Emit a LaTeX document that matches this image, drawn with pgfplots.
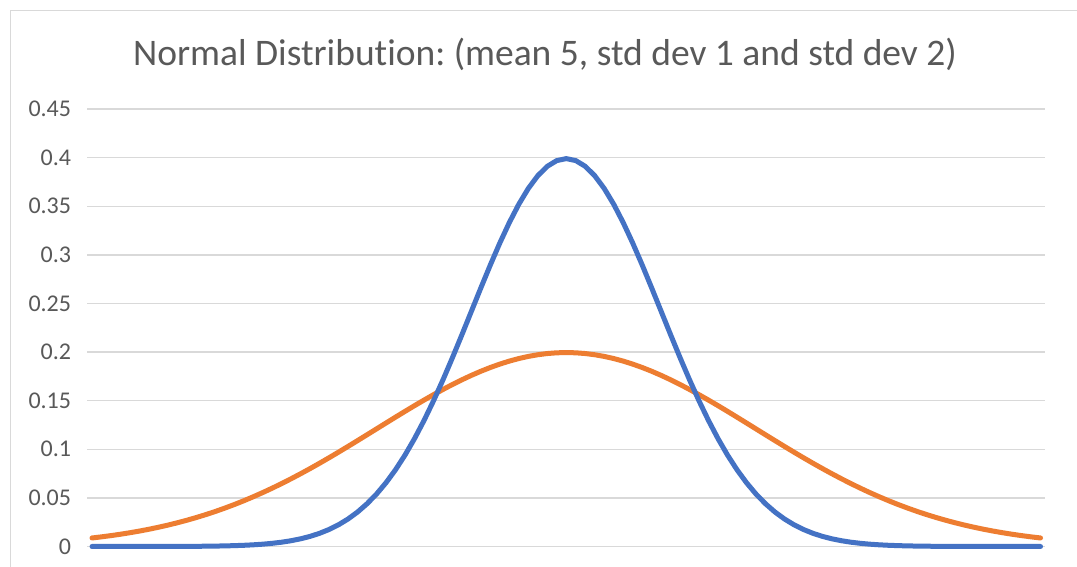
\documentclass[border=0pt]{standalone}
\usepackage{pgfplots}
\pgfplotsset{compat=1.18}
\usepackage{pgfplotstable}
\usepackage{fontspec}
\setmainfont[Ligatures=NoCommon]{Carlito}
\frenchspacing
\definecolor{xlblue}{HTML}{4472C4}
\definecolor{xlorange}{HTML}{ED7D31}
\definecolor{xlgrid}{HTML}{D9D9D9}
\definecolor{xltext}{HTML}{595959}
\pgfplotstableread{
x a b
0.0 0.0000015 0.008764
0.1 0.0000024 0.009919
0.2 0.0000040 0.011197
0.3 0.0000063 0.012610
0.4 0.0000101 0.014164
0.5 0.0000160 0.015870
0.6 0.0000249 0.017738
0.7 0.0000385 0.019779
0.8 0.0000589 0.021992
0.9 0.0000893 0.024396
1.0 0.000134 0.026995
1.1 0.000199 0.029797
1.2 0.000292 0.032808
1.3 0.000425 0.036027
1.4 0.000612 0.039475
1.5 0.000873 0.043139
1.6 0.001232 0.047025
1.7 0.001723 0.051133
1.8 0.002384 0.055460
1.9 0.003267 0.060004
2.0 0.004432 0.064759
2.1 0.005953 0.069716
2.2 0.007915 0.074864
2.3 0.010421 0.080191
2.4 0.013583 0.085684
2.5 0.017528 0.091325
2.6 0.022395 0.097093
2.7 0.028327 0.102968
2.8 0.035475 0.108926
2.9 0.043984 0.114941
3.0 0.053991 0.120985
3.1 0.065616 0.127030
3.2 0.078950 0.133043
3.3 0.094049 0.138992
3.4 0.110921 0.144846
3.5 0.129518 0.150568
3.6 0.149727 0.156127
3.7 0.171369 0.161486
3.8 0.194186 0.166612
3.9 0.217852 0.171472
4.0 0.241971 0.176033
4.1 0.266085 0.180263
4.2 0.289692 0.184135
4.3 0.312254 0.187620
4.4 0.333225 0.190694
4.5 0.352065 0.193334
4.6 0.368270 0.195521
4.7 0.381388 0.197240
4.8 0.391043 0.198476
4.9 0.396953 0.199222
5.0 0.398942 0.199471
5.1 0.396953 0.199222
5.2 0.391043 0.198476
5.3 0.381388 0.197240
5.4 0.368270 0.195521
5.5 0.352065 0.193334
5.6 0.333225 0.190694
5.7 0.312254 0.187620
5.8 0.289692 0.184135
5.9 0.266085 0.180263
6.0 0.241971 0.176033
6.1 0.217852 0.171472
6.2 0.194186 0.166612
6.3 0.171369 0.161486
6.4 0.149727 0.156127
6.5 0.129518 0.150568
6.6 0.110921 0.144846
6.7 0.094049 0.138992
6.8 0.078950 0.133043
6.9 0.065616 0.127030
7.0 0.053991 0.120985
7.1 0.043984 0.114941
7.2 0.035475 0.108926
7.3 0.028327 0.102968
7.4 0.022395 0.097093
7.5 0.017528 0.091325
7.6 0.013583 0.085684
7.7 0.010421 0.080191
7.8 0.007915 0.074864
7.9 0.005953 0.069716
8.0 0.004432 0.064759
8.1 0.003267 0.060004
8.2 0.002384 0.055460
8.3 0.001723 0.051133
8.4 0.001232 0.047025
8.5 0.000873 0.043139
8.6 0.000612 0.039475
8.7 0.000425 0.036027
8.8 0.000292 0.032808
8.9 0.000199 0.029797
9.0 0.000134 0.026995
9.1 0.0000893 0.024396
9.2 0.0000589 0.021992
9.3 0.0000385 0.019779
9.4 0.0000249 0.017738
9.5 0.0000160 0.015870
9.6 0.0000101 0.014164
9.7 0.0000063 0.012610
9.8 0.0000040 0.011197
9.9 0.0000024 0.009919
10.0 0.0000015 0.008764
}\datatable
\begin{document}
\begin{tikzpicture}[x=1pt,y=1pt]
\useasboundingbox[fill=white] (0,0) rectangle (1077,567);
\draw[xlgrid, line width=1.3pt] (10.5,-5) -- (10.5,556.5) -- (1085,556.5);
\node[anchor=base, font=\fontsize{37.5}{44}\selectfont, text=xltext, inner sep=0pt] at (545,501) {Normal Distribution: (mean 5, std dev 1 and std dev 2)};
\begin{axis}[
  at={(92pt,20.5pt)}, anchor=origin,
  scale only axis, width=958pt, height=437.5pt,
  xmin=-0.05, xmax=10.05, ymin=0, ymax=0.45,
  axis line style={draw=none},
  xtick=\empty,
  ytick={0,0.05,0.1,0.15,0.2,0.25,0.3,0.35,0.4,0.45},
  yticklabels={0,0.05,0.1,0.15,0.2,0.25,0.3,0.35,0.4,0.45},
  major tick length=0pt,
  ymajorgrids, grid style={xlgrid, line width=1.4pt},
  yticklabel style={font=\fontsize{24}{29}\selectfont, text=xltext, inner sep=0pt, xshift=-16pt},
  clip=false,
]
\addplot[xlorange, line width=5pt, line cap=round, line join=round] table[x=x,y=b] {\datatable};
\addplot[xlblue, line width=5pt, line cap=round, line join=round] table[x=x,y=a] {\datatable};
\end{axis}
\end{tikzpicture}
\end{document}
